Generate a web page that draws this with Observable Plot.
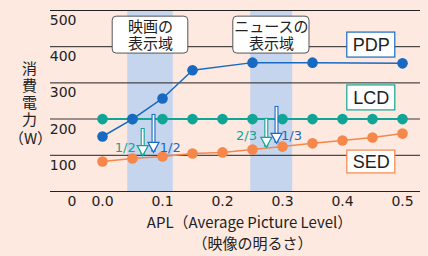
<!DOCTYPE html>
<html><head><meta charset="utf-8">
<script src="https://cdn.jsdelivr.net/npm/d3@7"></script>
<script src="https://cdn.jsdelivr.net/npm/@observablehq/plot@0.6"></script>
<style>html,body{margin:0;padding:0;background:#fde9e0}</style>
</head><body><div id="chart"></div>
<script>
// ---- data ----
const aplLevels = [0, 0.05, 0.1, 0.15, 0.2, 0.25, 0.3, 0.35, 0.4, 0.45, 0.5];
const pdpApl   = [0, 0.05, 0.1, 0.15, 0.25, 0.35, 0.5];
const pdpWatts = [152, 200, 257, 335, 356, 356, 354];
const lcdWatts = [200, 200, 200, 200, 200, 200, 200, 200, 200, 200, 200];
const sedWatts = [83, 91, 97, 105, 108, 116, 124, 133, 141, 149, 160];
const yTicks = [0, 100, 200, 300, 400, 500];
const xTicks = [0, 0.1, 0.2, 0.3, 0.4, 0.5];

// display ranges (APL)
const bandStart = [0.042, 0.247];
const bandEnd   = [0.118, 0.317];
// callout annotations
const calloutText = ["映画の\n表示域", "ニュースの\n表示域"];
const calloutX1 = [0.017, 0.218];
const calloutX2 = [0.143, 0.345];
const calloutY1 = [381, 381];
const calloutY2 = [483, 483];
// series label boxes
const seriesNames = ["PDP", "LCD", "SED"];
const seriesColors = ["#1769c2", "#10a597", "#f5874b"];
const labelX1 = [0.408, 0.408, 0.408];
const labelX2 = [0.488, 0.488, 0.488];
const labelY1 = [370, 224, 50];
const labelY2 = [439, 293, 113];
// reduction arrows
const arrowX    = [0.067, 0.085, 0.273, 0.29];
const arrowTop  = [174, 213, 202, 235];
const arrowTip  = [99, 108, 122, 133];
const arrowSeries = ["LCD", "PDP", "LCD", "PDP"];
const fracText = ["1/2", "1/2", "2/3", "1/3"];
const fracX = [0.038, 0.113, 0.24, 0.315];
const fracY = [122, 122, 155, 155];

// ---- tables ----
const colorOf = Object.fromEntries(seriesNames.map((n, i) => [n, seriesColors[i]]));
const pdp = pdpApl.map((x, i) => ({x, y: pdpWatts[i]}));
const lcd = aplLevels.map((x, i) => ({x, y: lcdWatts[i]}));
const sed = aplLevels.map((x, i) => ({x, y: sedWatts[i]}));
const bands = bandStart.map((x1, i) => ({x1, x2: bandEnd[i]}));
const callouts = calloutText.map((t, i) => ({t, x1: calloutX1[i], x2: calloutX2[i], y1: calloutY1[i], y2: calloutY2[i]}));
const labels = seriesNames.map((t, i) => ({t, c: seriesColors[i], x1: labelX1[i], x2: labelX2[i], y1: labelY1[i], y2: labelY2[i]}));
const arrows = arrowX.map((x, i) => ({x, top: arrowTop[i], tip: arrowTip[i], c: colorOf[arrowSeries[i]]}));
const fracs = fracText.map((t, i) => ({t, x: fracX[i], y: fracY[i], c: colorOf[arrowSeries[i]]}));

const headDown = {draw(ctx) { ctx.moveTo(-5.5, -10); ctx.lineTo(5.5, -10); ctx.lineTo(0, 0); ctx.closePath(); }};
const CJK = "'Noto Sans CJK JP', sans-serif";

const chart = Plot.plot({
  width: 428, height: 256,
  marginLeft: 50, marginRight: 8, marginTop: 10, marginBottom: 65,
  style: {background: "#fde9e0", fontFamily: "'DejaVu Sans', sans-serif", fontSize: "14px", color: "#222"},
  x: {domain: [-0.08667, 0.53]},
  y: {domain: [0, 500]},
  marks: [
    Plot.rect(bands, {x1: "x1", x2: "x2", fill: "#c6d5ee"}),
    Plot.ruleY(yTicks.filter(d => d !== 200), {stroke: "#222", strokeWidth: 1}),
    Plot.ruleY([200], {stroke: "#7a7070", strokeWidth: 1.5}),
    Plot.rect(callouts, {x1: "x1", x2: "x2", y1: "y1", y2: "y2", fill: "white", stroke: "#555", strokeWidth: 1, rx: 4}),
    Plot.text(callouts, {x: d => (d.x1 + d.x2) / 2, y: d => (d.y1 + d.y2) / 2, text: "t", fontFamily: CJK, fontSize: 15, lineHeight: 1.15, fill: "#222"}),
    Plot.line(lcd, {x: "x", y: "y", stroke: colorOf.LCD, strokeWidth: 2}),
    Plot.line(sed, {x: "x", y: "y", stroke: colorOf.SED, strokeWidth: 1.5}),
    Plot.line(pdp, {x: "x", y: "y", stroke: colorOf.PDP, strokeWidth: 1.5}),
    Plot.dot(lcd, {x: "x", y: "y", r: 5.3, fill: colorOf.LCD}),
    Plot.dot(sed, {x: "x", y: "y", r: 5.3, fill: colorOf.SED}),
    Plot.dot(pdp, {x: "x", y: "y", r: 5.3, fill: colorOf.PDP}),
    Plot.rect(labels, {x1: "x1", x2: "x2", y1: "y1", y2: "y2", fill: "white", stroke: "c", strokeWidth: 1.2}),
    Plot.text(labels, {x: d => (d.x1 + d.x2) / 2, y: d => (d.y1 + d.y2) / 2, text: "t", fontFamily: "'Liberation Sans', Arial, sans-serif", fontSize: 18, fill: "#222"}),
    Plot.ruleX(arrows, {x: "x", y1: "top", y2: "tip", stroke: "c", strokeWidth: 4}),
    Plot.ruleX(arrows, {x: "x", y1: "top", y2: "tip", stroke: "white", strokeWidth: 1.8, insetTop: 1}),
    Plot.dot(arrows, {x: "x", y: "tip", symbol: headDown, fill: "white", stroke: "c", strokeWidth: 1.2}),
    Plot.text(fracs, {x: "x", y: "y", text: "t", fill: "c", fontSize: 13, fontFamily: "'DejaVu Sans', sans-serif"}),
    Plot.axisY({ticks: yTicks, tickSize: 0, textAnchor: "end", dx: 35, dy: 10, label: null, fontSize: 14, fill: "#222"}),
    Plot.axisX({ticks: xTicks, tickSize: 0, tickPadding: 5, tickFormat: d3.format(".1f"), label: null, fontSize: 14, fill: "#222"}),
    Plot.text(["消\n費\n電\n力"], {frameAnchor: "left", textAnchor: "middle", dx: -21, dy: -7, fontFamily: CJK, fontSize: 15, lineHeight: 1.13, fill: "#222"}),
    Plot.text(["（W）"], {frameAnchor: "left", textAnchor: "middle", dx: -20, dy: 38, fontFamily: CJK, fontSize: 15, fill: "#222"}),
    Plot.text(["APL（Average Picture Level）"], {frameAnchor: "bottom", dx: 14, dy: 36, fontFamily: CJK, fontSize: 15, fill: "#222"}),
    Plot.text(["（映像の明るさ）"], {frameAnchor: "bottom", dx: 17, dy: 57, fontFamily: CJK, fontSize: 15, fill: "#222"})
  ]
});
document.getElementById("chart").appendChild(chart);
</script>
</body></html>
